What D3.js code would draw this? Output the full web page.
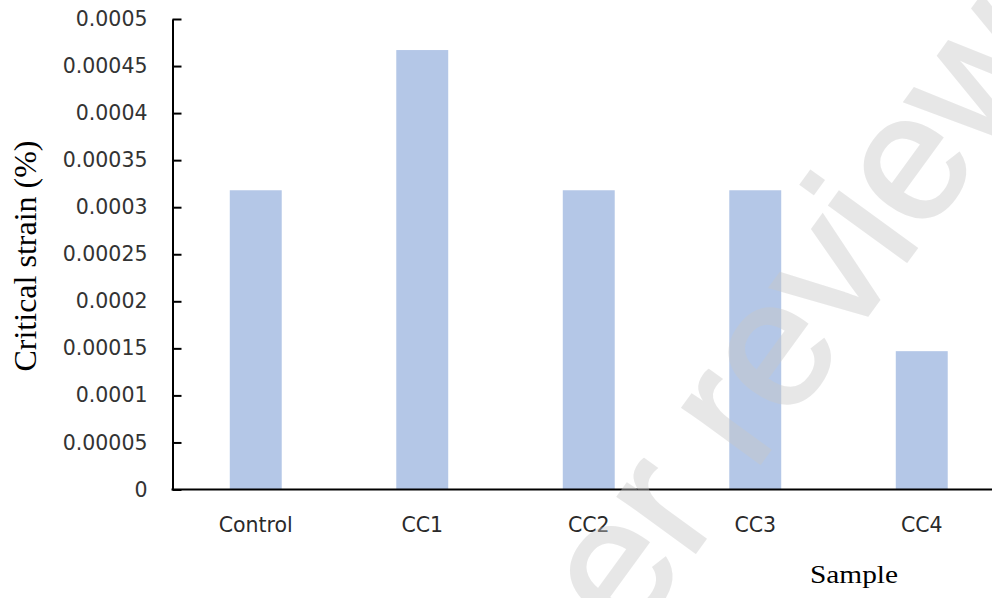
<!DOCTYPE html>
<html>
<head>
<meta charset="utf-8">
<script src="https://cdn.jsdelivr.net/npm/d3@7"></script>
<style>
  html, body { margin: 0; padding: 0; background: #fff; }
  svg { display: block; }
</style>
</head>
<body>
<div id="chart"></div>
<script>
// Critical strain per sample
const categories = ["Control", "CC1", "CC2", "CC3", "CC4"];
const strainValues = [0.000318, 0.000467, 0.000318, 0.000318, 0.000147];
const yTickValues = [0, 0.00005, 0.0001, 0.00015, 0.0002, 0.00025, 0.0003, 0.00035, 0.0004, 0.00045, 0.0005];
const yTickLabels = ["0", "0.00005", "0.0001", "0.00015", "0.0002", "0.00025", "0.0003", "0.00035", "0.0004", "0.00045", "0.0005"];

const W = 992, H = 598;
const plot = { left: 172.5, right: 1005, top: 19, bottom: 489.5 };

const svg = d3.select("#chart").append("svg")
  .attr("width", W).attr("height", H);

const x = d3.scaleBand()
  .domain(categories)
  .range([plot.left, plot.right])
  .paddingInner(0.688)
  .paddingOuter(0.344);

const y = d3.scaleLinear()
  .domain([0, 0.0005])
  .range([plot.bottom, plot.top]);

// bars
svg.append("g")
  .selectAll("rect")
  .data(categories)
  .join("rect")
  .attr("x", d => x(d))
  .attr("width", x.bandwidth())
  .attr("y", (d, i) => y(strainValues[i]))
  .attr("height", (d, i) => y(0) - y(strainValues[i]))
  .attr("fill", "#b4c7e7");

// y axis: ticks point into the plot
const yAxis = d3.axisRight(y)
  .tickValues(yTickValues)
  .tickFormat((d, i) => yTickLabels[i])
  .tickSize(9)
  .tickSizeOuter(0);

const gy = svg.append("g")
  .attr("transform", `translate(${plot.left},0)`)
  .call(yAxis);
gy.select(".domain").attr("stroke", "#000").attr("stroke-width", 2);
gy.selectAll(".tick line").attr("stroke", "#000").attr("stroke-width", 2);
gy.selectAll(".tick text")
  .attr("x", -25)
  .attr("text-anchor", "end")
  .attr("fill", "#333")
  .style("font-family", "'DejaVu Sans', sans-serif")
  .style("font-size", "20.5px");

// x axis: baseline runs to the right edge, no ticks
const xAxis = d3.axisBottom(x).tickSize(0).tickSizeOuter(0);
const gx = svg.append("g")
  .attr("transform", `translate(0,${plot.bottom})`)
  .call(xAxis);
gx.select(".domain").remove();
gx.append("line")
  .attr("x1", plot.left - 1).attr("x2", W)
  .attr("y1", 0).attr("y2", 0)
  .attr("stroke", "#000").attr("stroke-width", 2);
gx.selectAll(".tick text")
  .attr("y", 42)
  .attr("dy", 0)
  .attr("fill", "#2a2a2a")
  .style("font-family", "'DejaVu Sans', sans-serif")
  .style("font-size", "20.5px");

// axis titles
svg.append("text")
  .attr("transform", "translate(36,256) rotate(-90)")
  .attr("text-anchor", "middle")
  .style("font-family", "'Liberation Serif', 'Times New Roman', serif")
  .style("font-size", "32px")
  .attr("fill", "#000")
  .text("Critical strain (%)");

svg.append("text")
  .attr("transform", "translate(854,583) scale(1.13,1)")
  .attr("text-anchor", "middle")
  .style("font-family", "'Liberation Serif', 'Times New Roman', serif")
  .style("font-size", "26px")
  .attr("fill", "#000")
  .text("Sample");

// diagonal watermark, drawn as one translucent layer
svg.append("text")
  .attr("transform", "translate(500,821) rotate(-54)")
  .style("font-family", "'Liberation Sans', Arial, sans-serif")
  .style("font-size", "180px")
  .attr("fill", "rgb(200,200,200)")
  .attr("stroke", "rgb(200,200,200)")
  .attr("stroke-width", 3)
  .attr("opacity", 0.42)
  .text("Peer review");
</script>
</body>
</html>
